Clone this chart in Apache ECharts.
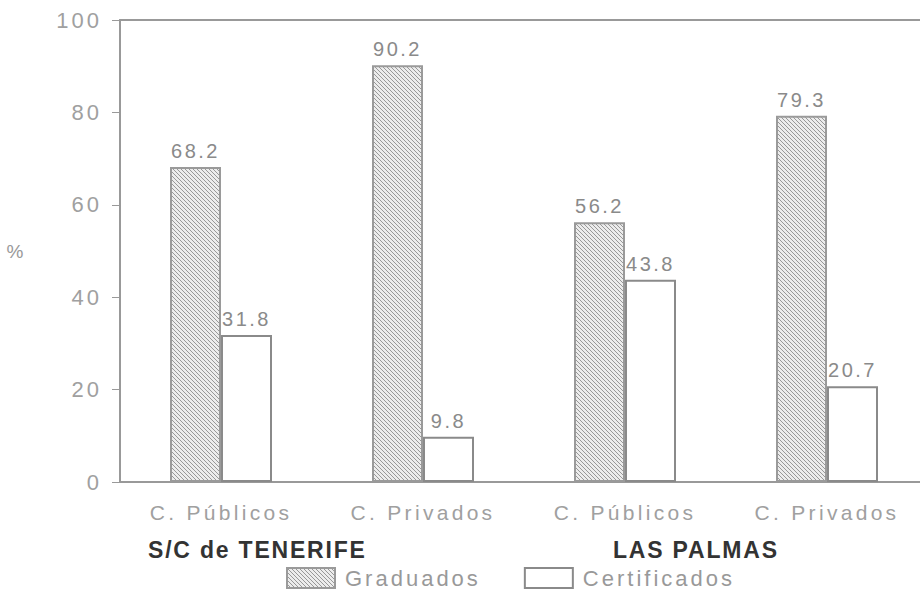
<!DOCTYPE html>
<html>
<head>
<meta charset="utf-8">
<script src="https://cdn.jsdelivr.net/npm/echarts@6/dist/echarts.min.js"></script>
<style>
  html, body { margin: 0; padding: 0; background: #fff; overflow: hidden; width: 920px; height: 595px; }
  #chart { width: 928px; height: 595px; }
  #chart text { letter-spacing: 2.5px; }
  #chart text[style*="21px"], #chart text[font-size="21"], #chart text[font-size="21px"] { letter-spacing: 3.3px; }
  #chart text[style*="bold"], #chart text[font-weight="bold"] { letter-spacing: 1.8px; }
  #chart text[style*="22px"], #chart text[font-size="22"], #chart text[font-size="22px"] { letter-spacing: 3px; }
  #chart text[style*="20px"], #chart text[font-size="20"], #chart text[font-size="20px"] { letter-spacing: 2.5px; }
</style>
</head>
<body>
<div id="chart"></div>
<script>
const categories = ['C. Públicos', 'C. Privados', 'C. Públicos', 'C. Privados'];
const graduados = [68.2, 90.2, 56.2, 79.3];
const certificados = [31.8, 9.8, 43.8, 20.7];
const groupNames = ['S/C de TENERIFE', 'LAS PALMAS'];
const yTicks = [0, 20, 40, 60, 80, 100];

function hatch() {
  const w = 4, h = 4;
  const c = document.createElement('canvas');
  c.width = w; c.height = h;
  const ctx = c.getContext('2d');
  ctx.fillStyle = '#ececec';
  ctx.fillRect(0, 0, w, h);
  ctx.strokeStyle = '#989898';
  ctx.lineWidth = 1;
  for (let dx = -w; dx <= w; dx += w) {
    for (let dy = -h; dy <= h; dy += h) {
      ctx.beginPath();
      ctx.moveTo(dx, dy);
      ctx.lineTo(dx + w, dy + h);
      ctx.stroke();
    }
  }
  return c.toDataURL();
}
const hatchFill = { image: hatch(), repeat: 'repeat' };

const chart = echarts.init(document.getElementById('chart'), null, { renderer: 'svg' });
const font = 'Liberation Sans, Arial, sans-serif';
chart.setOption({
  animation: false,
  backgroundColor: '#fff',
  grid: { left: 120, top: 20, right: 0, height: 462 },
  legend: {
    left: 281, top: 562, icon: 'rect',
    itemWidth: 48, itemHeight: 20, itemGap: 70,
    textStyle: { color: '#999', fontSize: 22, fontFamily: font, padding: [0, 0, 0, 5] },
    data: ['Graduados', 'Certificados']
  },
  graphic: [
    { type: 'text', left: 148, top: 538, style: { text: groupNames[0], fontSize: 23, fontWeight: 'bold', fill: '#333', fontFamily: font } },
    { type: 'text', left: 613, top: 538, style: { text: groupNames[1], fontSize: 23, fontWeight: 'bold', fill: '#333', fontFamily: font } }
  ],
  xAxis: [{
    type: 'category', data: categories,
    axisLine: { lineStyle: { color: '#999', width: 2 } },
    axisTick: { alignWithLabel: true, length: 8, lineStyle: { color: '#999' } },
    axisLabel: { color: '#a0a0a0', fontSize: 21, fontFamily: font, margin: 20 }
  }, {
    type: 'category', data: categories, position: 'top',
    axisLine: { lineStyle: { color: '#999', width: 2 } },
    axisTick: { show: false }, axisLabel: { show: false }
  }],
  yAxis: {
    type: 'value', min: yTicks[0], max: yTicks[yTicks.length - 1], interval: 20,
    name: '%', nameLocation: 'middle', nameRotate: 0, nameGap: 94,
    nameTextStyle: { color: '#999', fontSize: 19, fontFamily: font },
    axisLine: { show: true, lineStyle: { color: '#999', width: 2 } },
    axisTick: { show: true, length: 8, lineStyle: { color: '#999' } },
    axisLabel: { color: '#a0a0a0', fontSize: 22, fontFamily: font, margin: 18 },
    splitLine: { show: false }
  },
  series: [{
    name: 'Graduados', type: 'bar', data: graduados,
    barWidth: 51, barGap: '0%',
    itemStyle: { color: hatchFill, borderColor: '#9a9a9a', borderWidth: 2 },
    label: { show: true, position: 'top', distance: 6, color: '#8a8a8a', fontSize: 20, fontFamily: font }
  }, {
    name: 'Certificados', type: 'bar', data: certificados,
    barWidth: 51,
    itemStyle: { color: '#fff', borderColor: '#8a8a8a', borderWidth: 2 },
    label: { show: true, position: 'top', distance: 6, color: '#8a8a8a', fontSize: 20, fontFamily: font }
  }]
});
</script>
</body>
</html>
